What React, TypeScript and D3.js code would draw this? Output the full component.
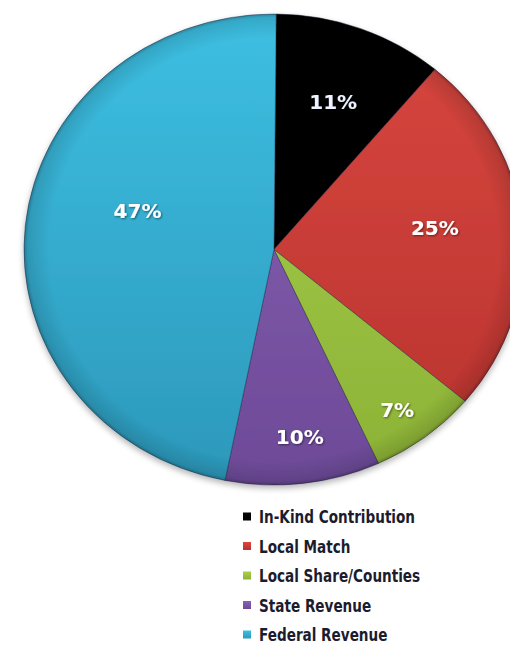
import React from "react";
import * as d3 from "d3";

const categories = ["In-Kind Contribution", "Local Match", "Local Share/Counties", "State Revenue", "Federal Revenue"];
const values = [11, 25, 7, 10, 47];
const colorsTop = ["#050505", "#d8473f", "#a8d04c", "#8a62b4", "#3dbfe2"];
const colorsBottom = ["#000000", "#b8322e", "#8cb236", "#6d4a98", "#2c98ba"];
const labelRadiusFrac = [0.67, 0.65, 0.84, 0.8, 0.57];
const labelAngleAdjDeg = [0.4, -3.2, 1.4, -0.7, 10.8];

const W = 510, H = 645;
const cx = 274, cy = 249.5, R = 235.5, sx = 250 / 235.5;
const start = (0.5 * Math.PI) / 180;

export default function App() {
  const pie = d3.pie<number>().sort(null).startAngle(start).endAngle(2 * Math.PI + start);
  const arcs = pie(values);
  const arc = d3.arc<d3.PieArcDatum<number>>().innerRadius(0).outerRadius(R);
  const legendY = d3.scalePoint<string>().domain(categories).range([517, 635]);

  return (
    <svg width={W} height={H} style={{ position: "absolute", left: 0, top: 0, background: "#fff" }}>
      <defs>
        {categories.map((c, i) => (
          <linearGradient key={c} id={`g${i}`} gradientUnits="userSpaceOnUse" x1={0} y1={-R} x2={0} y2={R}>
            <stop offset="0" stopColor={colorsTop[i]} />
            <stop offset="1" stopColor={colorsBottom[i]} />
          </linearGradient>
        ))}
        {categories.map((c, i) => (
          <linearGradient key={c + "l"} id={`lg${i}`} x1="0" y1="0" x2="0" y2="1">
            <stop offset="0" stopColor={colorsTop[i]} />
            <stop offset="1" stopColor={colorsBottom[i]} />
          </linearGradient>
        ))}
        <radialGradient id="rim" gradientUnits="userSpaceOnUse" cx={0} cy={0} r={R}>
          <stop offset="0.9" stopColor="#000" stopOpacity={0} />
          <stop offset="0.985" stopColor="#000" stopOpacity={0.12} />
          <stop offset="1" stopColor="#000" stopOpacity={0.3} />
        </radialGradient>
        <filter id="shadow" x="-20%" y="-20%" width="140%" height="140%">
          <feGaussianBlur in="SourceAlpha" stdDeviation="3" />
          <feOffset dx="0" dy="3" result="b" />
          <feComponentTransfer><feFuncA type="linear" slope="0.3" /></feComponentTransfer>
          <feMerge><feMergeNode /><feMergeNode in="SourceGraphic" /></feMerge>
        </filter>
        <filter id="tshadow">
          <feGaussianBlur in="SourceAlpha" stdDeviation="1" />
          <feOffset dx="1" dy="1" />
          <feComponentTransfer><feFuncA type="linear" slope="0.5" /></feComponentTransfer>
          <feMerge><feMergeNode /><feMergeNode in="SourceGraphic" /></feMerge>
        </filter>
      </defs>
      <g transform={`translate(${cx},${cy}) scale(${sx},1)`} filter="url(#shadow)">
        {arcs.map((a, i) => (
          <path key={i} d={arc(a) || ""} fill={`url(#g${i})`} stroke="rgba(30,30,60,0.5)" strokeWidth={0.8} />
        ))}
        <ellipse rx={R} ry={R} fill="url(#rim)" />
      </g>
      {arcs.map((a, i) => {
        const ang = (a.startAngle + a.endAngle) / 2 + (labelAngleAdjDeg[i] * Math.PI) / 180;
        const r = labelRadiusFrac[i] * R;
        const x = cx + sx * r * Math.sin(ang);
        const y = cy - r * Math.cos(ang);
        return (
          <text key={i} x={x} y={y} dy="0.36em" textAnchor="middle" fill={i === 0 ? "#eef4ff" : "#ffffff"}
            fontFamily="DejaVu Sans, sans-serif" fontWeight="bold" fontSize={20} filter="url(#tshadow)">
            {values[i]}%
          </text>
        );
      })}
      {categories.map((c, i) => {
        const y = legendY(c) as number;
        return (
          <g key={c}>
            <rect x={243} y={y - 4.5} width={8} height={8} fill={`url(#lg${i})`} />
            <g transform={`translate(259,${y + 6}) scale(0.8,1)`}>
              <text x={0} y={0} fill="#1c1c2e" fontFamily="DejaVu Sans, sans-serif" fontWeight="bold" fontSize={17}>
                {c}
              </text>
            </g>
          </g>
        );
      })}
    </svg>
  );
}
